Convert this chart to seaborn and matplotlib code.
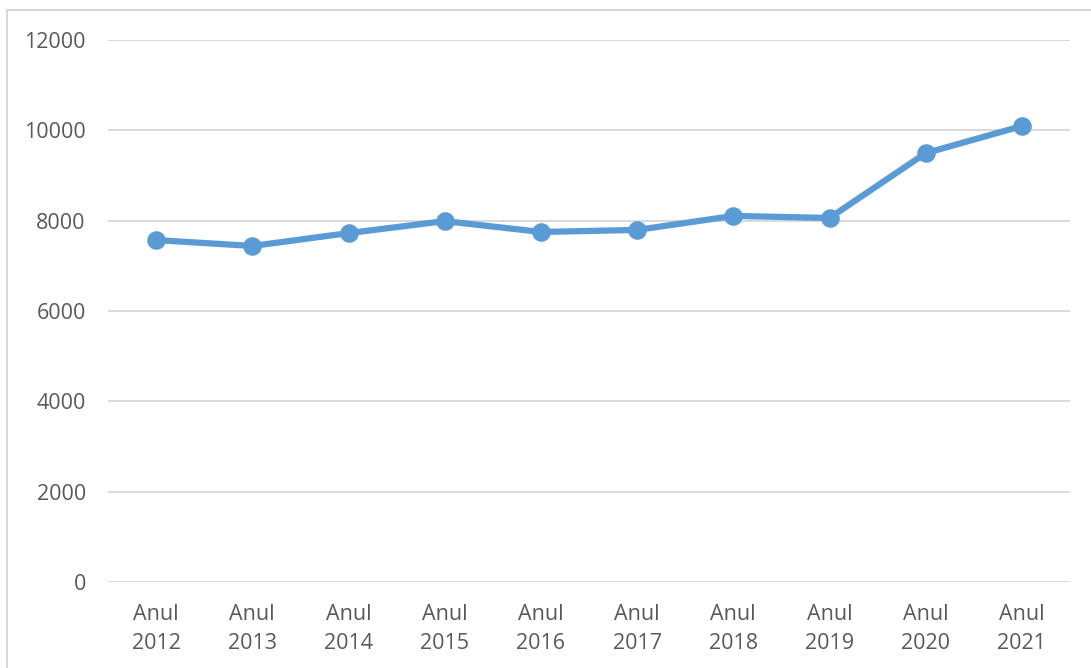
import matplotlib
matplotlib.use('Agg')
import matplotlib.pyplot as plt
from matplotlib.lines import Line2D
import seaborn as sns
import pandas as pd

# Data
years = ['Anul\n2012', 'Anul\n2013', 'Anul\n2014', 'Anul\n2015', 'Anul\n2016',
         'Anul\n2017', 'Anul\n2018', 'Anul\n2019', 'Anul\n2020', 'Anul\n2021']
values = [7570, 7440, 7725, 7990, 7750, 7795, 8105, 8060, 9495, 10095]

df = pd.DataFrame({'year': years, 'value': values})

sns.set_theme(style='white')
plt.rcParams['font.family'] = ['Open Sans', 'DejaVu Sans']

fig = plt.figure(figsize=(10.91, 6.68), dpi=100)
ax = fig.add_axes([108 / 1091, 86 / 668, 962 / 1091, 542 / 668])

sns.pointplot(data=df, x='year', y='value', ax=ax, color='#5B9BD5',
              markers='o', linestyles='-', errorbar=None,
              markersize=10, linewidth=4.5)

ax.set_ylim(0, 12000)
ax.set_xlim(-0.5, len(years) - 0.5)
ax.set_yticks(range(0, 12001, 2000))
ax.yaxis.grid(True, color='#D9D9D9', linewidth=1.4)
ax.xaxis.grid(False)
ax.set_axisbelow(True)
for s in ax.spines.values():
    s.set_visible(False)
ax.set_xlabel('')
ax.set_ylabel('')
ax.tick_params(axis='both', length=0, labelsize=15.5, labelcolor='#595959')
ax.tick_params(axis='y', pad=16)
ax.tick_params(axis='x', pad=16)
for lbl in ax.get_xticklabels():
    lbl.set_linespacing(1.5)

# chart area border (top and left edges visible in the reference)
fig.add_artist(Line2D([7 / 1091, 1.0], [1 - 10 / 668, 1 - 10 / 668],
                      transform=fig.transFigure, color='#D9D9D9', linewidth=1.5))
fig.add_artist(Line2D([7 / 1091, 7 / 1091], [0, 1 - 10 / 668],
                      transform=fig.transFigure, color='#D9D9D9', linewidth=1.5))

fig.savefig('out.png', dpi=100)
